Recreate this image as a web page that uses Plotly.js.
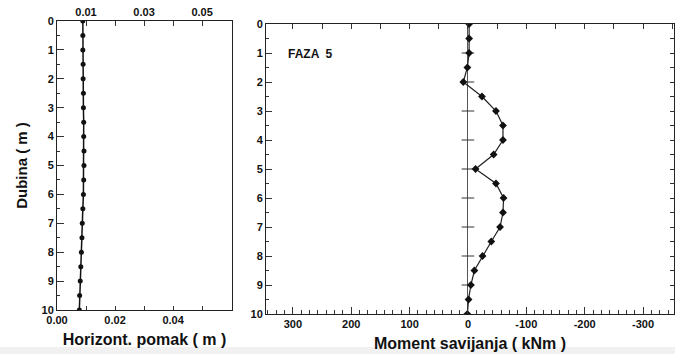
<!DOCTYPE html>
<html><head><meta charset="utf-8">
<script src="https://cdn.plot.ly/plotly-3.0.1.min.js"></script>
<style>html,body{margin:0;padding:0;background:#fff}#g{width:675px;height:354px}</style>
</head><body><div id="g"></div>
<script>
// depths (m)
const depth = [0,0.5,1,1.5,2,2.5,3,3.5,4,4.5,5,5.5,6,6.5,7,7.5,8,8.5,9,9.5,10];
// horizontal displacement (m)
const pomak = [0.0089,0.0089,0.0089,0.0090,0.0090,0.0091,0.0091,0.0092,0.0092,0.0093,0.0093,0.0092,0.0091,0.0089,0.0087,0.0086,0.0084,0.0082,0.0080,0.0078,0.0077];
// bending moment (kNm)
const moment = [-2,-2,-2,1,8,-24,-48,-60,-60,-44,-13,-48,-61,-60,-55,-40,-25,-11,-5,-1,1];
// zero-line tick depths
const zeroTicks = [1,2,3,4,5,6,7,8,9];
const leftBottomTicks = [0,0.02,0.04];
const leftTopTicks = [0.01,0.03,0.05];
const rightTicks = [300,200,100,0,-100,-200,-300];

const F = 'Liberation Sans, Arial, sans-serif';
const tickFont = {family:F, size:11, color:'#111', weight:'bold'};
const titleFont = {family:F, size:16, color:'#111', weight:'bold'};

const traces = [
  {x:pomak, y:depth, xaxis:'x', yaxis:'y', mode:'lines+markers',
   line:{color:'#111', width:1.5}, marker:{symbol:'circle', size:5, color:'#111'}},
  {x:zeroTicks.map(()=>0), y:zeroTicks, xaxis:'x3', yaxis:'y3', mode:'markers',
   marker:{symbol:'line-ew', size:9, line:{width:1, color:'#333'}}},
  {x:moment, y:depth, xaxis:'x3', yaxis:'y3', mode:'lines+markers',
   line:{color:'#222', width:1.2}, marker:{symbol:'diamond', size:6, color:'#111'}}
];

const common = {showline:true, linecolor:'#222', linewidth:1, showgrid:false, zeroline:false,
  ticks:'inside', tickcolor:'#333', tickfont:tickFont, mirror:false, fixedrange:true};

const yl = [1-310/354, 1-21/354];
const yr = [1-314/354, 1-24/354];
const xl = [57/675, 232/675];
const xr = [266/675, 674/675];

const layout = {
  width:675, height:354, margin:{l:0,r:0,t:0,b:0}, showlegend:false,
  paper_bgcolor:'#fff', plot_bgcolor:'rgba(0,0,0,0)',
  xaxis:Object.assign({}, common, {domain:xl, anchor:'y', range:[0,0.0603],
    tickvals:leftBottomTicks, ticktext:['0.00','0.02','0.04'], ticklen:4,
    minor:{dtick:0.01, tick0:0, ticklen:4, ticks:'inside', tickcolor:'#333'},
    title:{text:'Horizont. pomak ( m )', font:titleFont, standoff:8}}),
  xaxis2:Object.assign({}, common, {domain:xl, anchor:'y', overlaying:'x', side:'top', range:[0,0.0603],
    tickvals:leftTopTicks, ticktext:['0.01','0.03','0.05'], ticklen:5,
    minor:{dtick:0.01, tick0:0, ticklen:5, ticks:'inside', tickcolor:'#333'}}),
  yaxis:Object.assign({}, common, {domain:yl, anchor:'x', range:[10,0], dtick:1, ticklen:7,
    minor:{dtick:0.5, ticklen:3, ticks:'inside', tickcolor:'#333'},
    title:{text:'Dubina ( m )', font:{family:F, size:15, color:'#111', weight:'bold'}, standoff:10}}),
  yaxis2:Object.assign({}, common, {domain:yl, anchor:'x', overlaying:'y', side:'right', range:[10,0],
    ticks:'', showticklabels:false}),
  xaxis3:Object.assign({}, common, {domain:xr, anchor:'y3', range:[346,-353],
    zeroline:true, zerolinecolor:'#555', zerolinewidth:1,
    tickvals:rightTicks, ticktext:rightTicks.map(String), ticklen:7,
    minor:{dtick:100/7, tick0:0, ticklen:4, ticks:'inside', tickcolor:'#333'},
    title:{text:'Moment savijanja ( kNm )', font:titleFont, standoff:8}}),
  xaxis4:Object.assign({}, common, {domain:xr, anchor:'y3', overlaying:'x3', side:'top', range:[346,-353],
    dtick:50, tick0:0, ticklen:5, showticklabels:false}),
  yaxis3:Object.assign({}, common, {domain:yr, anchor:'x3', range:[10,0], dtick:1, ticklen:6,
    minor:{dtick:0.5, ticklen:3, ticks:'inside', tickcolor:'#333'}}),
  yaxis4:Object.assign({}, common, {domain:yr, anchor:'x3', overlaying:'y3', side:'right', range:[10,0],
    dtick:0.5, ticklen:4, showticklabels:false}),
  annotations:[{xref:'x3', yref:'y3', x:312, y:1.05, xanchor:'left', yanchor:'middle', showarrow:false,
    text:'FAZA  5', font:{family:F, size:12, color:'#111', weight:'bold'}}],
  shapes:[{type:'rect', xref:'paper', yref:'paper', x0:0, x1:1, y0:0, y1:7/354,
    fillcolor:'#f1f1f1', line:{width:0}, layer:'below'}]
};
// dummy traces to activate overlay axes
traces.push({x:[0.03], y:[5], xaxis:'x2', yaxis:'y2', mode:'markers', marker:{opacity:0}, hoverinfo:'skip'});
traces.push({x:[0], y:[5], xaxis:'x4', yaxis:'y4', mode:'markers', marker:{opacity:0}, hoverinfo:'skip'});

Plotly.newPlot('g', traces, layout, {staticPlot:true, displayModeBar:false});
</script></body></html>
